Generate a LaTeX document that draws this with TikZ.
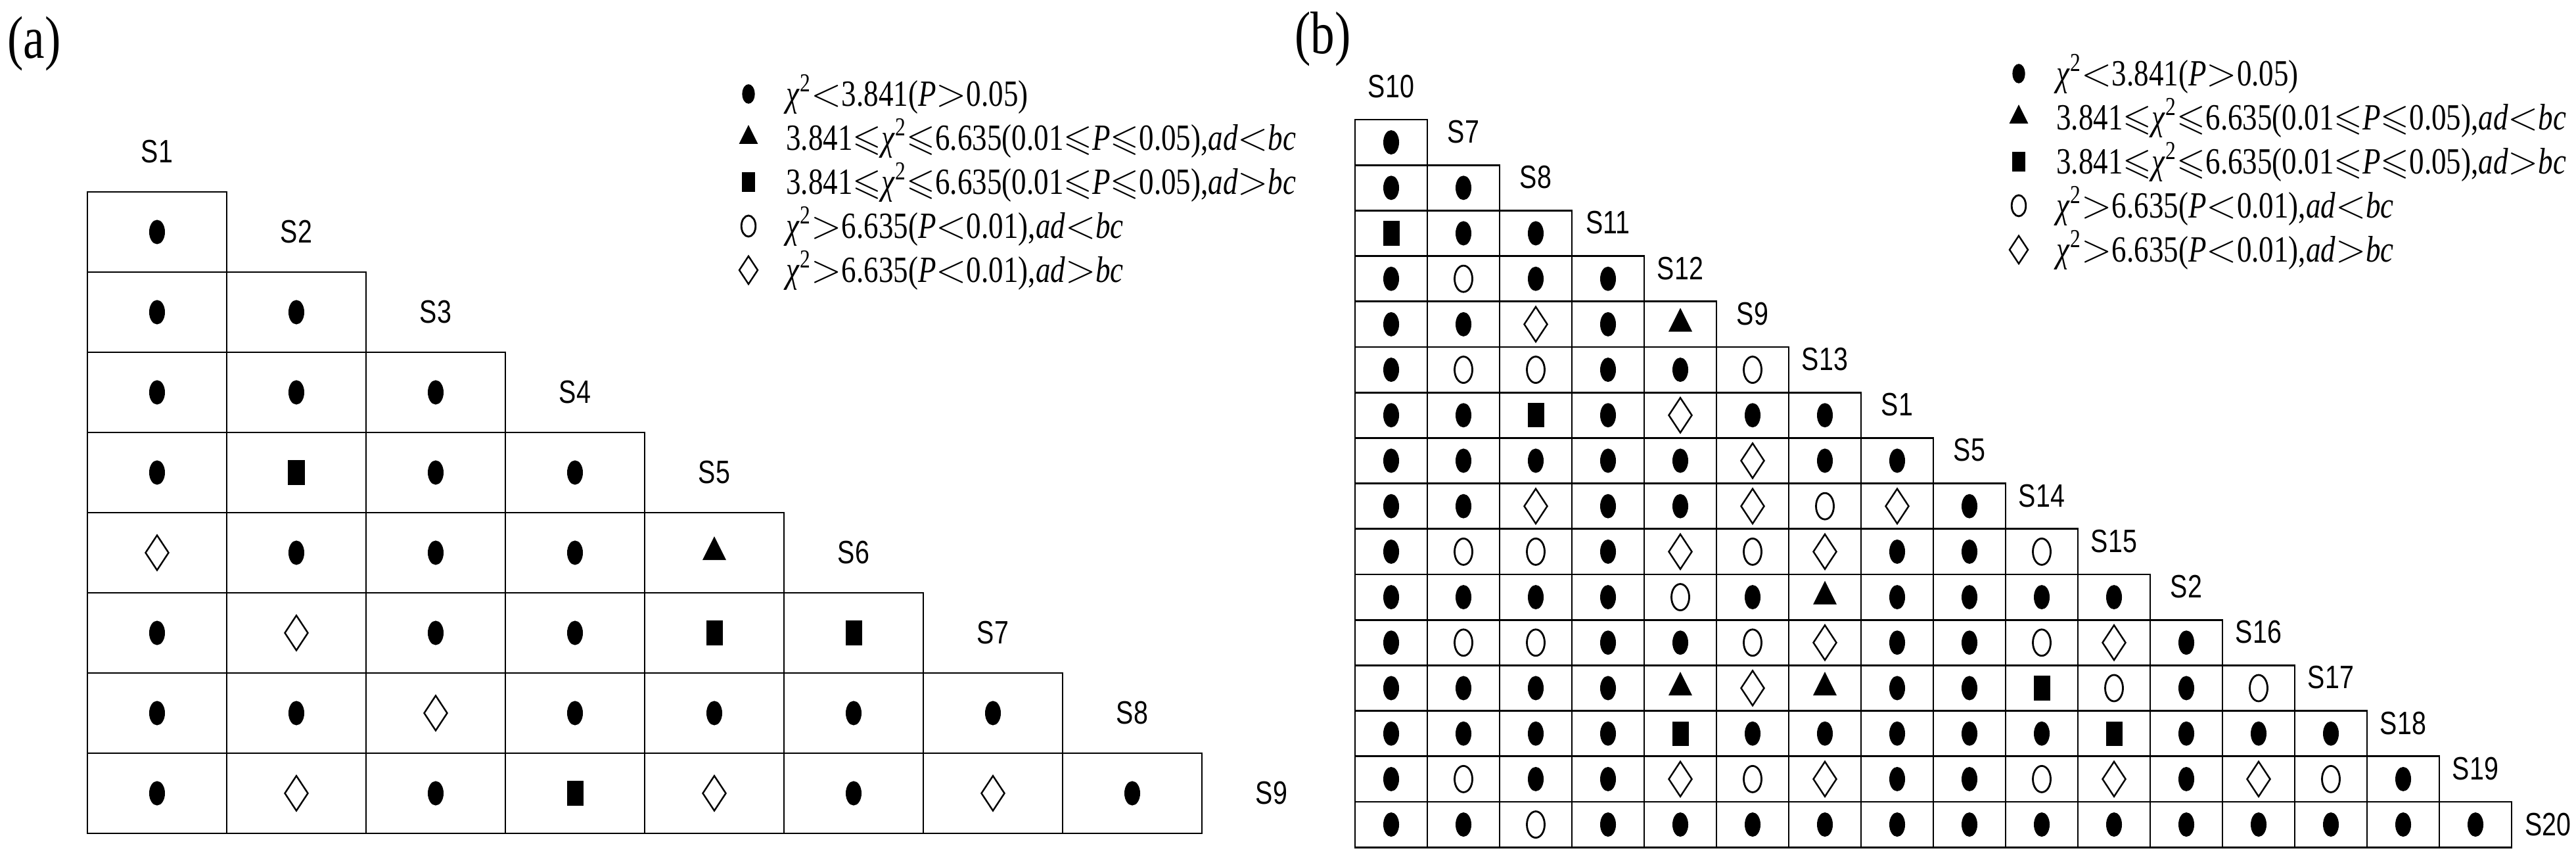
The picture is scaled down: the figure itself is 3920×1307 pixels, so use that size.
\documentclass[tikz,border=0pt]{standalone}
\usepackage{amssymb}
\usepackage{fontspec}
\setmainfont{Liberation Serif}
\newfontfamily\labfont{Liberation Sans}[FakeStretch=0.8]
\newfontfamily\keyfont{Liberation Serif}[FakeStretch=0.8]
\usetikzlibrary{shapes.geometric}

\tikzset{
  cell/.style={line width=0.8pt},
  lab/.style={font=\labfont\fontsize{14}{16}\selectfont},
  key/.style={anchor=west,font=\keyfont\fontsize{16}{18}\selectfont},
  mk-d/.style={ellipse,fill,inner sep=0pt,minimum width=0.24cm,minimum height=0.37cm},
  mk-o/.style={ellipse,draw,line width=0.8pt,inner sep=0pt,minimum width=0.27cm,minimum height=0.4cm},
  mk-s/.style={rectangle,fill,inner sep=0pt,minimum width=0.25cm,minimum height=0.37cm},
  mk-t/.style={isosceles triangle,isosceles triangle stretches,shape border rotate=90,fill,inner sep=0pt,minimum width=0.36cm,minimum height=0.36cm},
  mk-m/.style={diamond,draw,line width=0.7pt,inner sep=0pt,minimum width=0.36cm,minimum height=0.54cm,aspect=0.66},
}

\begin{document}
\begin{tikzpicture}[x=0.01cm,y=-0.01cm]
  \useasboundingbox (0,0) rectangle (3920,1307);

  % panel labels
  \node[font=\keyfont\fontsize{26}{28}\selectfont] (pa) at (52,67) {(a)};
  \node[font=\keyfont\fontsize{26}{28}\selectfont] (pb) at (2013,60) {(b)};

  % panel (a): cells and markers
  \foreach \r [count=\i] in {{d},{d,d},{d,d,d},{d,s,d,d},{m,d,d,d,t},
      {d,m,d,d,s,s},{d,d,m,d,d,d,d},{d,m,d,s,m,d,m,d}} {
    \foreach \m [count=\j] in \r {
      \pgfmathsetmacro\cx{133+(\j-1)*212}
      \pgfmathsetmacro\cy{292+(\i-1)*122}
      \draw[cell] (\cx,\cy) rectangle ++(212,122);
      \node[mk-\m] (a-\i-\j) at (\cx+106,\cy+61) {};
    }
  }
  \foreach \s [count=\j] in {S1,S2,S3,S4,S5,S6,S7,S8,S9}
    \node[lab] (la-\j) at ({133+(\j-0.5)*212},{292+(\j-1.5)*122}) {\s};

  % panel (b): cells and markers
  \foreach \r [count=\i] in {{d},{d,d},{s,d,d},{d,o,d,d},{d,d,m,d,t},
      {d,o,o,d,d,o},{d,d,s,d,m,d,d},{d,d,d,d,d,m,d,d},{d,d,m,d,d,m,o,m,d},
      {d,o,o,d,m,o,m,d,d,o},{d,d,d,d,o,d,t,d,d,d,d},{d,o,o,d,d,o,m,d,d,o,m,d},
      {d,d,d,d,t,m,t,d,d,s,o,d,o},{d,d,d,d,s,d,d,d,d,d,s,d,d,d},
      {d,o,d,d,m,o,m,d,d,o,m,d,m,o,d},{d,d,o,d,d,d,d,d,d,d,d,d,d,d,d,d}} {
    \foreach \m [count=\j] in \r {
      \pgfmathsetmacro\cx{2062+(\j-1)*110}
      \pgfmathsetmacro\cy{182+(\i-1)*69.2}
      \draw[cell] (\cx,\cy) rectangle ++(110,69.2);
      \node[mk-\m] (b-\i-\j) at (\cx+55,\cy+34.6) {};
    }
  }
  \foreach \s [count=\j] in {S10,S7,S8,S11,S12,S9,S13,S1,S5,S14,S15,S2,S16,S17,S18,S19}
    \node[lab] (lb-\j) at ({2062+(\j-0.5)*110},{182+(\j-1.5)*69.2-16}) {\s};
  \node[lab] (lb-17) at ({2062+16.5*110},{182+15.5*69.2}) {S20};

  % legends
  \foreach \x/\y/\n in {1139/143/a,3072/112/b} {
    \node[mk-d,scale=0.8,transform shape] (\n-k1) at (\x,\y) {};
    \node[mk-t,scale=0.8,transform shape] (\n-k2) at (\x,\y+67) {};
    \node[mk-s,scale=0.8,transform shape] (\n-k3) at (\x,\y+134) {};
    \node[mk-o,scale=0.8,transform shape] (\n-k4) at (\x,\y+201) {};
    \node[mk-m,scale=0.8,transform shape] (\n-k5) at (\x,\y+268) {};
    \node[key] (\n-t1) at (\x+45,\y) {\textit{χ}\textsuperscript{2}$<$3.841(\textit{P}$>$0.05)};
    \node[key] (\n-t2) at (\x+45,\y+67) {3.841$\leqslant$\textit{χ}\textsuperscript{2}$\leqslant$6.635(0.01$\leqslant$\textit{P}$\leqslant$0.05),\textit{ad}$<$\textit{bc}};
    \node[key] (\n-t3) at (\x+45,\y+134) {3.841$\leqslant$\textit{χ}\textsuperscript{2}$\leqslant$6.635(0.01$\leqslant$\textit{P}$\leqslant$0.05),\textit{ad}$>$\textit{bc}};
    \node[key] (\n-t4) at (\x+45,\y+201) {\textit{χ}\textsuperscript{2}$>$6.635(\textit{P}$<$0.01),\textit{ad}$<$\textit{bc}};
    \node[key] (\n-t5) at (\x+45,\y+268) {\textit{χ}\textsuperscript{2}$>$6.635(\textit{P}$<$0.01),\textit{ad}$>$\textit{bc}};
  }
\end{tikzpicture}
\end{document}
